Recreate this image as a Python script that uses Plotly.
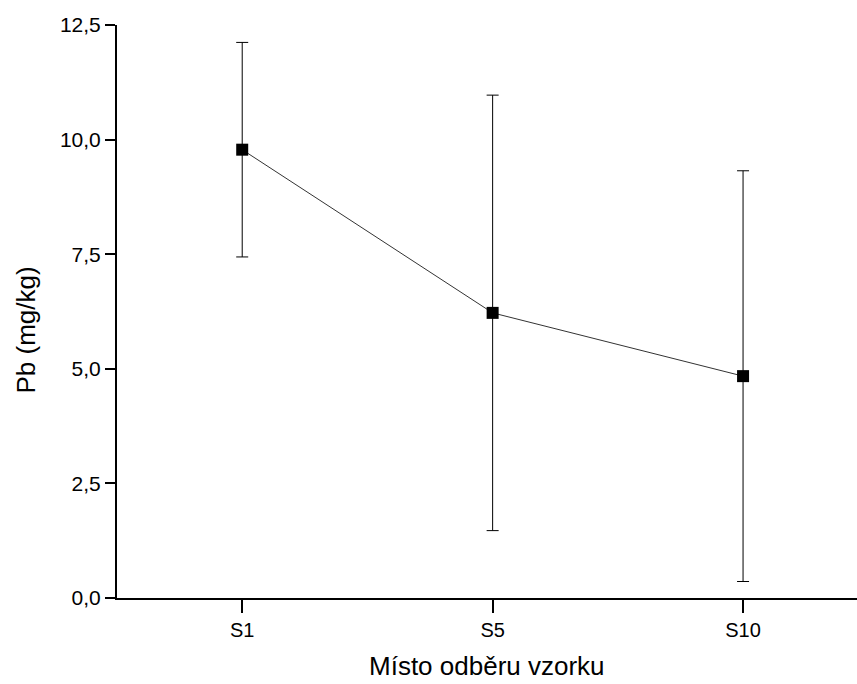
import plotly.graph_objects as go

categories = ["S1", "S5", "S10"]
means = [9.78, 6.22, 4.84]
errors = [2.34, 4.75, 4.48]
y_ticks = [0, 2.5, 5.0, 7.5, 10.0, 12.5]
y_tick_labels = ["0,0", "2,5", "5,0", "7,5", "10,0", "12,5"]
x_title = "Místo odběru vzorku"
y_title = "Pb (mg/kg)"

xpos = list(range(len(categories)))

fig = go.Figure()
fig.add_trace(go.Scatter(
    x=xpos, y=means,
    mode="lines+markers",
    line=dict(color="#333333", width=1),
    marker=dict(symbol="square", size=12, color="black"),
    error_y=dict(type="data", array=errors, visible=True, color="black",
                 thickness=1, width=6),
    showlegend=False,
))

fig.update_layout(
    width=857, height=684,
    margin=dict(l=117, r=0, t=25, b=86, autoexpand=False),
    paper_bgcolor="white", plot_bgcolor="white",
    font=dict(family="Liberation Sans, Arial, sans-serif", color="black"),
    annotations=[
        dict(text=x_title, xref="paper", yref="paper", x=0.5, y=0,
             xanchor="center", yanchor="bottom", yshift=-86 + 1,
             showarrow=False, font=dict(size=26)),
        dict(text=y_title, xref="paper", yref="paper", x=0, y=0.5,
             xanchor="center", yanchor="middle", xshift=-92, yshift=-19,
             textangle=-90, showarrow=False, font=dict(size=26)),
    ],
)
fig.update_xaxes(
    range=[-0.5, 2.455],
    tickvals=xpos, ticktext=categories,
    showline=True, linecolor="black", linewidth=2,
    ticks="outside", ticklen=13, tickwidth=2, tickcolor="black",
    showgrid=False, zeroline=False, automargin=False,
    tickfont=dict(size=20),
)
fig.update_yaxes(
    range=[0, 12.5],
    tickvals=y_ticks, ticktext=y_tick_labels,
    showline=True, linecolor="black", linewidth=2,
    ticks="outside", ticklen=10, tickwidth=2, tickcolor="black",
    showgrid=False, zeroline=False, automargin=False,
    tickfont=dict(size=21),
)

fig.write_html("out.html", config={"displayModeBar": False},
               post_script="document.body.style.margin='0';")
